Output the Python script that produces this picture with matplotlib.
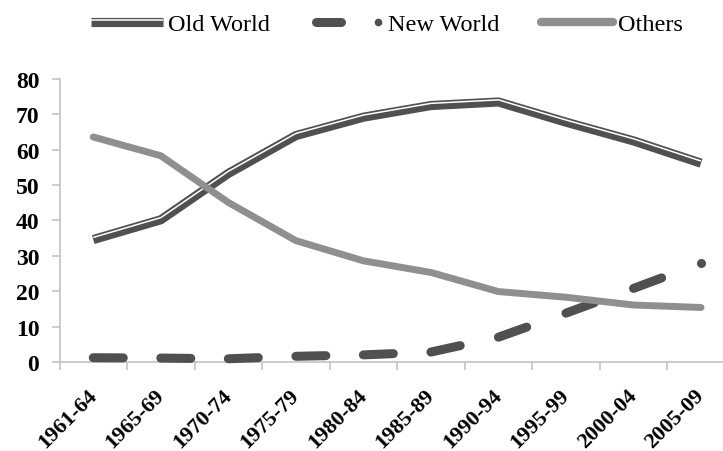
import numpy as np
import matplotlib
matplotlib.use("Agg")
import matplotlib.pyplot as plt
from matplotlib.lines import Line2D
from matplotlib.legend_handler import HandlerBase
from matplotlib import transforms

periods = ["1961-64", "1965-69", "1970-74", "1975-79", "1980-84",
           "1985-89", "1990-94", "1995-99", "2000-04", "2005-09"]
old_world = [34.6, 40.2, 53.3, 64.0, 69.2, 72.5, 73.5, 67.8, 62.5, 56.2]
new_world = [1.2, 1.1, 0.9, 1.6, 2.0, 2.8, 7.0, 13.8, 20.8, 27.9]
others = [63.6, 58.3, 45.1, 34.3, 28.6, 25.3, 19.9, 18.3, 16.1, 15.4]

DARK = "#505050"
GREY = "#8f8f8f"
AXIS = "#bfbfbf"

plt.rcParams["font.family"] = ["Liberation Serif", "DejaVu Serif"]
plt.rcParams["lines.scale_dashes"] = False

fig = plt.figure(figsize=(7.23, 4.52), dpi=100)
ax = fig.add_axes([0.0823, 0.197, 0.934, 0.626])
x = np.arange(len(periods))

# double line (thick + thin): a wide dark stroke with a white line cut into it
ax.plot(x, old_world, color=DARK, lw=6.6, solid_capstyle="butt",
        solid_joinstyle="round", zorder=2, clip_on=False)
cut = transforms.offset_copy(ax.transData, fig=fig, x=0, y=1.55, units="points")
ax.plot(x, old_world, color="white", lw=1.1, transform=cut,
        solid_capstyle="butt", zorder=2.1, clip_on=False)

# dash pattern starts over at every point, so each segment is drawn on its own
for i in range(len(x) - 1):
    ax.plot(x[i:i + 2], new_world[i:i + 2], color=DARK, lw=6.5,
            dashes=(21.6, 80), dash_capstyle="round", zorder=3, clip_on=False)
ax.plot(x[-1], new_world[-1], "o", color=DARK, ms=6.5, mew=0, zorder=3, clip_on=False)

ax.plot(x, others, color=GREY, lw=5, solid_capstyle="round",
        solid_joinstyle="round", zorder=4, clip_on=False)

ax.set_xlim(-0.5, 9.5)
ax.set_ylim(0, 80)
ax.set_yticks(np.arange(0, 81, 10))
# boundary ticks between periods; labels sit on invisible minor ticks
ax.set_xticks(np.arange(-0.5, 10, 1))
ax.set_xticklabels([])
ax.set_xticks(x + 0.06, periods, minor=True)
ax.tick_params(axis="x", which="major", direction="out", length=5.8, width=1.1, color=AXIS)
ax.tick_params(axis="x", which="minor", length=0, pad=24)
ax.tick_params(axis="y", direction="out", length=5.5, width=1.1, color=AXIS, pad=9)
for lab in ax.get_xticklabels(minor=True):
    lab.set_rotation(45)
    lab.set_ha("right")
    lab.set_va("baseline")
    lab.set_rotation_mode("anchor")
    lab.set_fontweight("bold")
    lab.set_fontsize(16)
for lab in ax.get_yticklabels():
    lab.set_fontweight("bold")
    lab.set_fontsize(17)
for s in ["top", "right"]:
    ax.spines[s].set_visible(False)
for s in ["left", "bottom"]:
    ax.spines[s].set_color(AXIS)
    ax.spines[s].set_linewidth(1.1)


class DoubleLine(HandlerBase):
    def create_artists(self, legend, orig_handle, xdescent, ydescent,
                       width, height, fontsize, trans):
        y = height / 2 - ydescent
        x0, x1 = -xdescent, -xdescent + width
        thick = Line2D([x0, x1], [y, y], color=DARK, lw=6.6, solid_capstyle="butt")
        thin = Line2D([x0, x1], [y + 1.55, y + 1.55], color="white", lw=1.1,
                      solid_capstyle="butt")
        thick.set_transform(trans)
        thin.set_transform(trans)
        return [thick, thin]


class DashDot(HandlerBase):
    def create_artists(self, legend, orig_handle, xdescent, ydescent,
                       width, height, fontsize, trans):
        y = height / 2 - ydescent
        x0 = -xdescent
        dash = Line2D([x0 + 3.3, x0 + 21.2], [y, y], color=DARK, lw=6.5,
                      solid_capstyle="round")
        dot = Line2D([x0 + 48], [y], marker="o", ms=5.5, mew=0, color=DARK, ls="none")
        dash.set_transform(trans)
        dot.set_transform(trans)
        return [dash, dot]


h_old = Line2D([], [], color=DARK)
h_new = Line2D([], [], color=DARK)
h_oth = Line2D([], [], color=GREY, lw=6, solid_capstyle="round")
fig.legend([h_old, h_new, h_oth], ["Old World", "New World", "Others"],
           handler_map={h_old: DoubleLine(), h_new: DashDot()},
           ncol=3, loc="center", bbox_to_anchor=(0.535, 0.944), frameon=False,
           fontsize=17.5, handlelength=2.97, handletextpad=0.2, columnspacing=1.7)

fig.savefig("out.png", dpi=100)
